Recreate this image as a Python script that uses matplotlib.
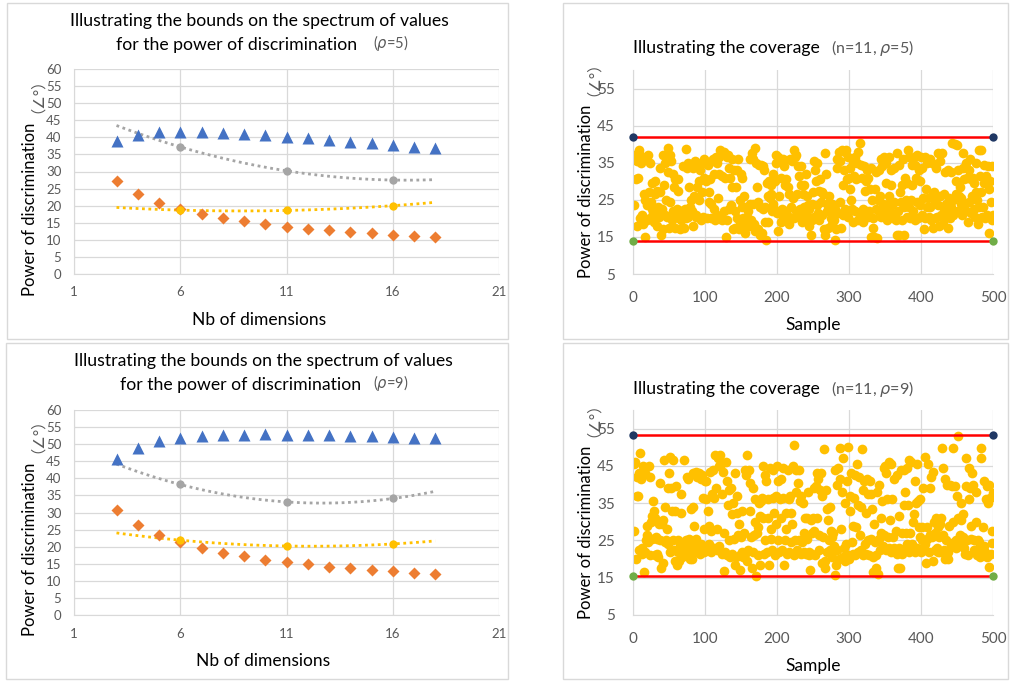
import numpy as np
import matplotlib
matplotlib.use('Agg')
import matplotlib.pyplot as plt
from matplotlib.patches import Rectangle

plt.rcParams['font.family'] = ['Lato', 'DejaVu Sans', 'Noto Sans CJK SC']

# ---- data: bounds vs number of dimensions ----
dims = [3, 4, 5, 6, 7, 8, 9, 10, 11, 12, 13, 14, 15, 16, 17, 18]
upper_r5 = [38.8, 40.8, 41.6, 41.7, 41.6, 41.3, 41.0, 40.7, 40.2, 39.7, 39.1, 38.7, 38.2, 37.8, 37.3, 37.0]
lower_r5 = [27.3, 23.5, 20.9, 19.1, 17.6, 16.4, 15.4, 14.6, 13.9, 13.3, 12.9, 12.4, 11.9, 11.5, 11.1, 10.9]
upper_r9 = [45.6, 49.0, 50.9, 51.9, 52.3, 52.6, 52.8, 53.0, 52.8, 52.8, 52.6, 52.4, 52.3, 52.0, 51.9, 51.7]
lower_r9 = [30.7, 26.3, 23.3, 21.3, 19.5, 18.2, 17.2, 16.2, 15.5, 14.8, 14.1, 13.7, 13.2, 12.8, 12.4, 11.9]
mid_dims = [6, 11, 16]
gray_r5 = [37.2, 30.2, 27.5]
gold_r5 = [18.7, 18.6, 20.0]
gray_r9 = [38.2, 33.1, 34.1]
gold_r9 = [21.9, 20.2, 20.8]

# ---- data: coverage (n=11) ----
bounds_r5 = [41.9, 13.9]
bounds_r9 = [53.2, 15.4]
samples_r5 = [float(v) for v in """
23.5 37.0 36.0 30.5 18.0 35.5 31.0 38.5 37.5 20.0 35.0 21.0 36.5 18.5 26.5 15.0 25.0 36.0 19.5 23.5
37.0 27.0 35.0 20.0 24.5 22.5 29.5 21.5 19.0 30.0 26.5 22.0 27.5 18.0 23.0 20.5 27.0 33.5 15.5 22.5
17.0 37.0 29.0 21.0 35.0 25.0 20.5 39.0 32.5 17.5 37.0 24.5 35.5 19.5 32.0 22.0 28.5 17.5 30.5 21.0
22.5 27.5 30.5 20.0 17.0 22.0 19.5 22.0 34.0 21.5 17.5 22.5 20.0 38.7 33.5 20.5 35.0 28.5 23.0 25.0
34.5 22.0 18.0 33.5 26.0 35.5 21.0 20.5 28.5 34.0 30.0 25.0 33.0 19.5 35.0 27.0 20.5 31.0 36.0 35.5
35.0 30.0 20.0 34.5 27.0 24.5 30.5 20.0 24.0 35.5 36.0 22.5 32.0 19.5 36.5 35.0 21.0 25.5 36.5 32.0
38.5 20.0 31.5 19.5 37.5 38.0 22.0 31.0 15.0 36.5 19.5 37.0 33.5 22.5 31.0 23.5 36.0 28.5 17.0 33.0
22.0 17.5 28.5 20.0 33.0 36.0 17.0 25.0 19.0 32.0 31.0 23.0 20.0 26.0 16.0 23.0 19.0 20.5 18.0 22.0
18.0 24.0 36.0 19.5 37.5 36.0 24.0 18.5 39.0 16.5 35.0 28.5 24.5 17.0 34.5 15.5 23.0 34.5 16.0 22.5
34.0 33.0 23.0 19.0 14.2 29.5 26.0 19.0 30.0 25.5 29.0 26.5 22.0 24.0 32.0 22.5 30.0 37.0 35.0 21.5
36.5 16.5 26.0 35.5 19.0 31.0 22.5 36.0 20.0 34.0 29.0 22.0 30.5 21.0 28.5 18.5 26.5 36.0 20.0 23.0
35.5 25.5 38.5 20.0 36.5 22.0 37.0 26.5 34.0 20.5 31.5 22.5 34.0 29.0 19.0 26.5 23.0 29.0 21.0 32.0
20.0 26.0 23.5 18.0 22.5 20.0 15.4 24.0 19.5 27.0 35.5 20.5 33.0 30.0 23.5 35.0 21.5 27.5 19.5 30.5
24.5 27.0 21.0 26.5 17.0 15.5 37.5 32.0 22.0 24.0 17.5 26.0 22.0 23.0 20.0 18.5 24.0 21.0 19.5 14.2
22.5 17.0 33.5 36.0 21.5 38.0 24.5 35.5 17.5 38.5 29.0 21.0 33.0 38.0 22.5 38.5 30.5 36.5 20.5 31.0
28.0 33.5 25.0 22.5 35.0 19.0 31.5 36.5 22.0 30.5 35.0 38.0 19.5 21.5 40.2 34.5 20.0 31.0 22.5 19.0
34.0 27.5 30.0 22.0 33.0 20.5 31.0 22.0 28.0 15.0 33.5 25.0 17.5 20.0 15.0 28.0 22.5 32.5 14.8 25.0
22.0 33.0 26.0 20.5 36.0 34.0 24.0 21.0 36.5 22.5 35.0 29.5 19.5 24.0 36.5 26.0 21.5 33.0 29.0 23.5
20.0 33.5 24.5 21.0 19.5 15.6 37.5 22.0 15.6 34.5 27.0 24.5 29.0 19.5 36.0 15.6 23.0 31.0 25.0 20.5
29.5 38.5 23.0 36.5 20.0 25.0 34.5 29.0 22.0 36.5 19.5 34.5 31.0 24.5 37.0 20.0 33.0 30.0 23.5 36.5
33.5 21.0 25.5 17.0 36.5 20.0 28.0 23.0 35.0 25.5 20.5 36.0 23.0 19.5 35.0 26.5 17.5 27.0 20.0 24.5
33.5 20.5 37.5 23.5 18.0 35.5 26.0 21.0 37.5 18.5 23.0 26.5 20.0 32.5 24.0 21.5 17.5 33.0 25.5 20.0
32.5 23.0 40.3 25.0 21.0 22.0 40.0 30.0 26.5 39.8 33.0 22.0 26.0 28.5 24.0 25.5 21.0 33.5 37.5 30.5
24.0 35.0 22.0 31.0 19.0 33.0 24.5 36.0 30.5 21.5 26.0 31.0 22.5 29.5 20.5 35.0 27.0 25.0 18.5 23.0
38.3 31.5 27.0 38.5 20.5 23.0 29.5 34.5 20.0 31.5 21.0 30.0 34.0 16.0 28.0 30.0 24.5 19.5 34.0 21.0
""".split()]
samples_r9 = [float(v) for v in """
27.5 45.5 46.0 20.0 37.0 42.0 37.0 43.0 22.5 48.5 41.5 23.0 21.5 45.0 16.5 43.0 22.0 25.0 29.0 26.5
24.5 45.0 21.0 42.0 30.0 31.5 25.5 35.5 33.0 31.0 21.0 26.0 25.5 21.5 20.5 29.5 25.0 40.5 17.5 29.5
19.0 30.5 46.5 34.0 24.5 25.0 28.0 39.0 24.0 43.0 22.0 47.5 39.0 33.0 25.0 46.5 22.5 19.5 33.0 39.5
18.5 25.0 22.0 19.5 23.5 32.5 37.5 20.5 22.5 24.0 46.5 21.5 23.5 25.0 42.0 22.0 41.5 25.5 20.0 23.5
33.5 20.0 43.0 34.0 29.0 22.0 25.5 43.5 42.0 24.0 22.5 43.0 21.5 41.5 24.0 42.5 36.5 28.0 22.0 41.0
36.0 41.0 22.5 33.0 24.0 29.0 43.5 22.0 27.5 37.5 44.0 23.0 36.5 48.0 39.0 28.0 22.5 47.0 23.5 45.0
48.0 45.5 37.5 21.5 43.5 27.0 16.7 22.0 46.0 21.0 41.0 34.5 38.5 25.0 20.5 39.0 32.0 21.5 35.0 25.5
43.0 18.5 20.5 37.0 32.5 26.5 29.5 21.0 17.0 26.0 33.0 22.0 20.5 27.0 44.0 21.5 42.5 19.5 48.0 22.5
44.0 33.0 40.5 26.0 17.5 22.0 39.0 26.5 36.0 30.0 15.4 27.0 28.5 21.0 35.0 31.5 18.5 35.5 36.5 31.0
45.0 21.5 42.5 25.0 41.0 22.0 36.0 31.0 18.5 44.5 25.5 28.0 22.5 36.5 44.0 32.5 21.0 37.0 29.5 45.0
41.0 25.0 22.0 36.0 31.0 41.5 22.5 36.5 44.5 18.5 25.0 28.0 32.5 21.5 44.0 36.0 22.0 37.0 32.5 24.5
29.5 45.0 21.0 50.6 25.0 44.0 38.0 22.5 40.5 25.0 44.0 35.5 21.5 37.0 24.5 35.0 22.0 27.0 31.0 21.5
25.5 31.0 38.0 21.0 22.0 17.0 30.5 27.0 21.5 31.0 39.0 27.5 21.0 39.5 31.0 43.0 41.5 26.5 22.5 38.5
43.0 19.0 37.0 26.0 49.5 17.5 19.5 38.5 22.0 33.5 30.5 25.0 34.0 22.5 27.5 20.5 26.0 27.0 23.5 15.6
44.0 18.5 22.5 40.0 44.5 20.0 41.5 49.8 28.0 38.0 20.5 47.0 23.0 19.5 35.0 24.0 41.0 50.0 21.0 20.0
33.0 37.0 43.0 24.5 21.5 29.0 36.5 21.0 42.5 28.5 45.5 22.0 34.5 42.0 26.5 22.5 34.0 49.6 38.5 21.0
41.0 24.0 32.5 21.5 41.5 25.0 37.5 21.0 41.0 25.5 37.5 33.5 16.5 20.5 29.5 24.5 21.0 17.5 38.0 16.1
25.5 40.0 22.5 31.0 27.0 35.5 23.5 44.5 26.5 45.0 43.0 22.5 36.0 26.0 46.0 23.0 30.5 45.5 22.0 36.0
26.0 23.0 41.5 22.0 27.5 21.5 42.5 17.5 23.0 31.5 17.6 44.0 27.0 21.5 22.5 34.5 44.0 38.0 27.0 24.0
44.5 34.5 46.5 22.0 27.0 46.0 24.0 22.5 30.0 32.0 41.0 22.0 35.0 45.5 23.0 35.5 28.5 26.0 36.0 22.0
28.5 25.0 39.0 22.5 47.3 24.0 19.0 28.5 25.5 45.5 22.0 39.0 26.5 42.0 26.0 19.5 43.5 30.0 27.0 22.5
31.0 23.0 28.5 22.0 26.0 29.5 22.0 31.0 49.8 44.5 26.5 22.5 41.5 20.0 25.0 40.0 22.0 20.0 29.0 40.0
23.5 24.0 39.5 49.8 30.0 24.5 39.5 25.0 23.0 37.0 53.0 31.0 24.0 26.5 35.0 30.5 23.5 26.0 32.0 23.0
21.5 47.0 39.5 25.0 21.0 36.0 44.5 39.0 29.0 25.5 43.0 40.0 22.5 25.0 22.5 38.0 30.0 21.0 25.0 24.5
21.0 20.5 49.8 47.0 23.0 28.5 41.0 23.5 22.0 36.0 39.5 20.5 35.0 18.0 40.0 36.5 21.5 27.5 24.3 37.8
""".split()]

BLUE, ORANGE, GRAY, GOLD = '#4472C4', '#ED7D31', '#A5A5A5', '#FFC000'
NAVY, GREEN, RED = '#203864', '#70AD47', '#FF0000'
GRID, TICK = '#D9D9D9', '#595959'

W, H = 1010, 681
fig = plt.figure(figsize=(W / 100, H / 100), dpi=100)


def ftxt(x, y, s, **kw):
    fig.text(x / W, 1 - y / H, s, **kw)


def add_ax(x0, y0, x1, y1):
    return fig.add_axes([x0 / W, 1 - y1 / H, (x1 - x0) / W, (y1 - y0) / H])


def frame(x0, y0, x1, y1):
    fig.add_artist(Rectangle((x0 / W, 1 - y1 / H), (x1 - x0) / W, (y1 - y0) / H,
                             transform=fig.transFigure, fill=False, ec=GRID, lw=1))


def style(ax, tick_size, xpad, ypad):
    for s in ['top', 'right']:
        ax.spines[s].set_visible(False)
    for s in ['left', 'bottom']:
        ax.spines[s].set_color(GRID)
    ax.grid(True, color=GRID, lw=0.9)
    ax.set_axisbelow(True)
    ax.tick_params(length=0, labelsize=tick_size, labelcolor=TICK)
    ax.tick_params(axis='x', pad=xpad)
    ax.tick_params(axis='y', pad=ypad)


def bounds_panel(box, ax_px, upper, lower, gray, gold, rho, cx, ty, ylab_y):
    frame(*box)
    ax = add_ax(*ax_px)
    style(ax, 9.5, 9, 9)
    ax.set_xlim(1, 21); ax.set_ylim(0, 60)
    ax.set_xticks([1, 6, 11, 16, 21]); ax.set_yticks(range(0, 61, 5))
    # polynomial (order 2) trend lines, as in the spreadsheet chart
    xs = np.linspace(3, 18, 100)
    for vals, c in [(gray, GRAY), (gold, GOLD)]:
        coef = np.polyfit(mid_dims, vals, 2)
        ax.plot(xs, np.polyval(coef, xs), ls=(0, (1, 1.3)), lw=2, color=c, clip_on=False)
    ax.plot(dims, upper, '^', color=BLUE, ms=8, mec='none')
    ax.plot(dims, lower, 'D', color=ORANGE, ms=6, mec='none')
    ax.plot(mid_dims, gray, 'o', color=GRAY, ms=6, mec='none')
    ax.plot(mid_dims, gold, 'o', color=GOLD, ms=6, mec='none')
    ftxt(cx, ty, 'Illustrating the bounds on the spectrum of values',
         ha='center', va='center', fontsize=12.7)
    ftxt(cx - 22, ty + 24, 'for the power of discrimination', ha='center', va='center',
         fontsize=12.7)
    ftxt(373, ty + 22, '(' + r'$\rho$' + f'={rho})', ha='left', va='center',
         fontsize=10.5, color=TICK)
    ftxt(cx, ax_px[3] + 46, 'Nb of dimensions', ha='center', va='center', fontsize=12.5)
    ftxt(30, ylab_y, 'Power of discrimination', rotation=90, ha='center', va='center',
         fontsize=12)
    ftxt(30, ylab_y - 121, '（∠°）', rotation=90, ha='center', va='center',
         fontsize=11, color=TICK)


def coverage_panel(box, ax_px, vals, bnd, rho, ty, ylab_y):
    frame(*box)
    ax = add_ax(*ax_px)
    style(ax, 11, 12, 13)
    ax.set_xlim(0, 500); ax.set_ylim(5, 60)
    ax.set_xticks(range(0, 501, 100)); ax.set_yticks(range(5, 56, 10))
    n = np.arange(1, len(vals) + 1)
    ax.plot(n, vals, 'o', color=GOLD, ms=7, mec='none')
    for b, c in zip(bnd, [NAVY, GREEN]):
        ax.plot([0, 500], [b, b], color=RED, lw=1.8, zorder=3)
        ax.plot([0, 500], [b, b], 'o', color=c, ms=6, mec='none', zorder=4, clip_on=False)
    ftxt(ax_px[0], ty, 'Illustrating the coverage', ha='left', va='center', fontsize=12.7)
    ftxt(831, ty, '(n=11, ' + r'$\rho$' + f'={rho})', ha='left', va='center',
         fontsize=11.5, color=TICK)
    ftxt((ax_px[0] + ax_px[2]) / 2, ax_px[3] + 51, 'Sample', ha='center', va='center',
         fontsize=12.5)
    ftxt(586, ylab_y, 'Power of discrimination', rotation=90, ha='center', va='center',
         fontsize=12)
    ftxt(586, ylab_y - 120, '（∠°）', rotation=90, ha='center', va='center',
         fontsize=11, color=TICK)


bounds_panel((7, 3, 508, 339), (74, 69, 499, 274), upper_r5, lower_r5, gray_r5, gold_r5, 5, 259, 21, 209)
bounds_panel((6, 343, 508, 679), (74, 410, 499, 615), upper_r9, lower_r9, gray_r9, gold_r9, 9, 263, 361, 549)
coverage_panel((563, 3, 1008, 339), (633, 70, 993, 274), samples_r5, bounds_r5, 5, 48, 191)
coverage_panel((563, 343, 1008, 679), (633, 410, 993, 615), samples_r9, bounds_r9, 9, 389, 532)

fig.savefig('out.png', dpi=100)
